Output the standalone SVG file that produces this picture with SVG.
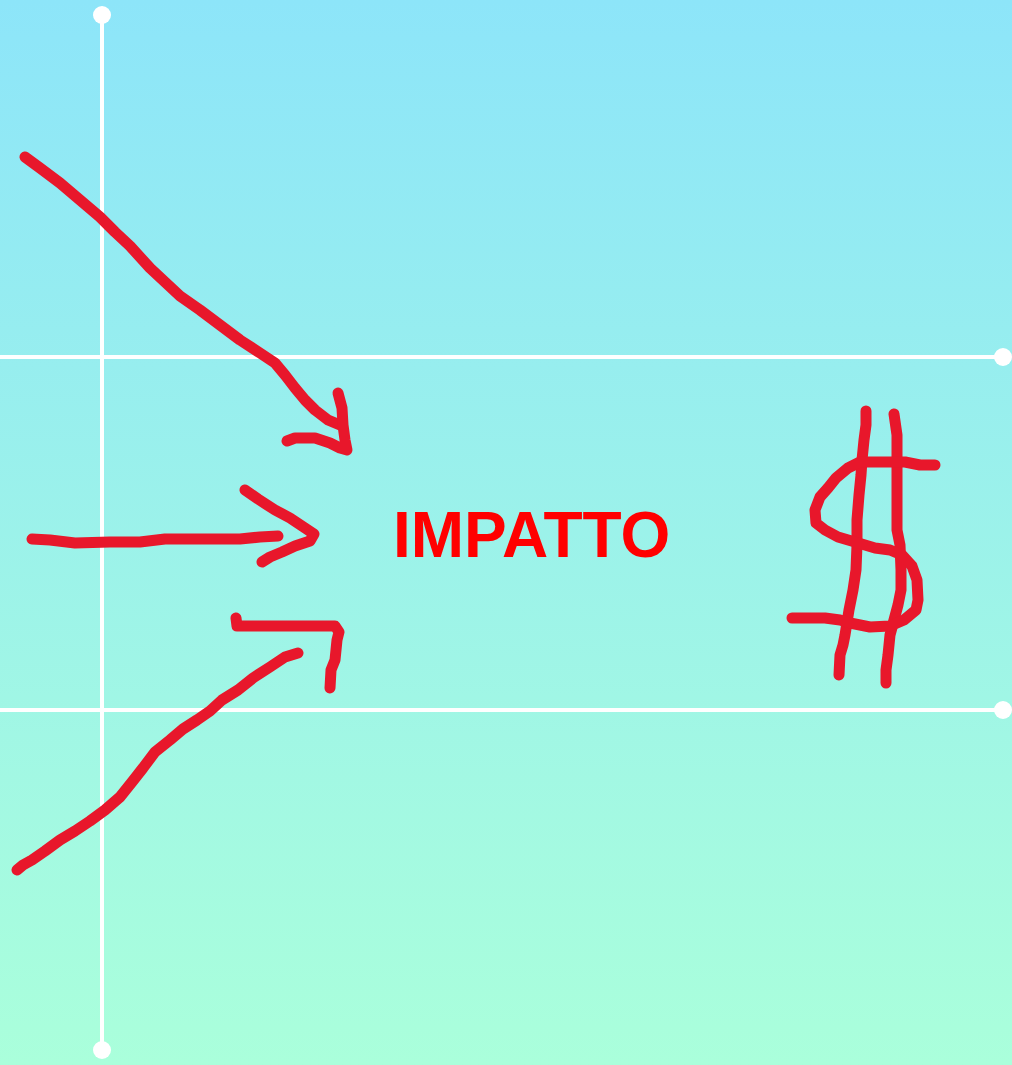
<svg xmlns="http://www.w3.org/2000/svg" width="1012" height="1065" viewBox="0 0 1012 1065">
<defs>
<linearGradient id="bg" x1="0" y1="0" x2="0" y2="1">
<stop offset="0" stop-color="#8de5f9"/>
<stop offset="1" stop-color="#aaffdb"/>
</linearGradient>
<style>
.guide{stroke:#ffffff;stroke-width:4;fill:none}
.dot{fill:#ffffff}
.ink{stroke:#e8172b;stroke-width:11;fill:none;stroke-linecap:round;stroke-linejoin:round}
.lbl{font-family:"Liberation Sans",Arial,sans-serif;font-weight:bold;font-size:64px;fill:#ff0000}
</style>
</defs>
<rect width="1012" height="1065" fill="url(#bg)"/>
<g id="guides">
<line class="guide" x1="102" y1="15" x2="102" y2="1050"/>
<line class="guide" x1="0" y1="357" x2="1003" y2="357"/>
<line class="guide" x1="0" y1="710" x2="1003" y2="710"/>
<circle class="dot" cx="102" cy="15" r="9"/>
<circle class="dot" cx="102" cy="1050" r="9"/>
<circle class="dot" cx="1003" cy="357" r="9"/>
<circle class="dot" cx="1003" cy="710" r="9"/>
</g>
<g id="arrows">
<polyline class="ink" points="25,157 40,168 60,183 80,200 100,217 115,232 130,246 150,268 165,282 180,296 200,310 220,325 240,340 260,353 275,363 285,375 295,388 305,400 315,410 328,420 340,425"/>
<polyline class="ink" points="338,393 342,408 343,425 345,440 347,450 340,448 330,443 315,438 295,438 287,441"/>
<polyline class="ink" points="32,539 50,540 75,543 110,542 140,542 165,539 200,539 240,539 260,537 278,536"/>
<polyline class="ink" points="245,490 258,499 275,510 290,518 305,528 314,534 310,541 295,546 282,552 270,557 262,562"/>
<polyline class="ink" points="17,870 23,865 32,860 45,851 60,840 75,831 90,821 105,810 120,797 132,782 143,768 155,752 170,740 183,729 197,720 210,711 222,700 238,690 253,678 270,667 285,657 298,653"/>
<polyline class="ink" points="236,618 237,626 255,626 290,626 320,626 335,626 339,632 337,640 335,660 331,670 330,688"/>
</g>
<g id="impatto">
<text class="lbl" x="393" y="557">IMPATTO</text>
</g>
<g id="dollar">
<polyline class="ink" points="866,411 866,425 864,440 862,460 861,475 859,495 857,520 857,545 856,570 853,590 849,610 845,635 843,645 840,655 839,675"/>
<polyline class="ink" points="894,414 897,435 897,460 897,495 897,530 900,545 901,570 901,590 898,605 894,620 890,635 888,655 886,670 886,683"/>
<polyline class="ink" points="935,465 920,465 905,462 880,462 860,462 848,468 836,478 828,488 820,497 815,510 816,523 825,530 838,537 855,542 875,548 890,550 902,555 912,566 917,580 918,600 916,610 904,620 890,626 870,627 850,623 840,620 825,618 810,618 792,618"/>
</g>
</svg>
